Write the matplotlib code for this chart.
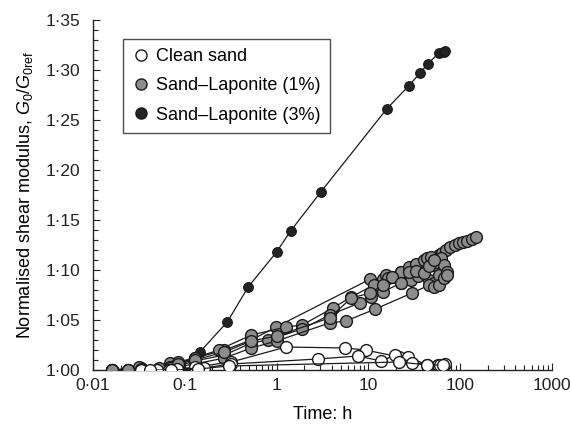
import matplotlib
matplotlib.use("Agg")
import matplotlib.pyplot as plt
from matplotlib.ticker import FixedLocator, FixedFormatter, LogLocator, NullFormatter, MultipleLocator
from matplotlib.lines import Line2D

plt.rcParams['font.family'] = ['Liberation Sans', 'DejaVu Sans']
plt.rcParams['mathtext.fontset'] = 'custom'
plt.rcParams['mathtext.rm'] = 'Liberation Sans'
plt.rcParams['mathtext.it'] = 'Liberation Sans:italic'

# ---------------- data ----------------
# Sand-Laponite (3%)
lap3_t = [0.065, 0.082, 0.146, 0.29, 0.49, 1.0, 1.42, 3.03, 15.8, 27.4, 36.5, 44.1, 58.6, 65.8, 68.2]
lap3_g = [1.000, 1.002, 1.018, 1.048, 1.083, 1.118, 1.139, 1.178, 1.261, 1.284, 1.297, 1.306, 1.317, 1.318, 1.319]

# Sand-Laponite (1%) - individual tests
lap1a_t = [0.016, 0.024, 0.033, 0.067, 0.13, 0.27, 0.53, 0.99, 10.5, 14.3, 15.6, 18.1, 22.7, 27.9, 33, 39.6,
           48, 59, 64, 70, 77, 88, 96, 108, 120, 134, 148]
lap1a_g = [1.000, 1.000, 1.002, 1.004, 1.012, 1.020, 1.030, 1.043, 1.091, 1.091, 1.095, 1.093, 1.098, 1.098,
           1.099, 1.100, 1.110, 1.115, 1.117, 1.120, 1.123, 1.125, 1.127, 1.128, 1.129, 1.131, 1.133]
lap1b_t = [0.016, 0.032, 0.052, 0.069, 0.084, 0.128, 0.234, 0.53, 1.27, 1.9, 4.1, 6.5, 11.5, 16.5, 22.7,
           27.9, 33, 40, 44, 48, 52, 56, 62]
lap1b_g = [1.000, 1.003, 1.001, 1.007, 1.008, 1.012, 1.020, 1.035, 1.043, 1.045, 1.062, 1.073, 1.085, 1.092,
           1.098, 1.103, 1.106, 1.110, 1.112, 1.113, 1.105, 1.108, 1.112]
lap1c_t = [0.016, 0.024, 0.052, 0.069, 0.084, 0.128, 0.27, 0.53, 0.81, 1.9, 3.77, 8.0, 10.7, 14.3, 22.7,
           29, 35, 40, 46, 52, 59, 66, 72]
lap1c_g = [1.000, 1.000, 1.001, 1.003, 1.004, 1.009, 1.015, 1.027, 1.030, 1.041, 1.055, 1.067, 1.073, 1.078,
           1.087, 1.090, 1.094, 1.097, 1.090, 1.087, 1.095, 1.105, 1.098]
lap1d_t = [0.016, 0.033, 0.069, 0.128, 0.27, 0.53, 1.0, 3.77, 5.7, 11.9, 29.9, 46, 52, 59, 66, 72]
lap1d_g = [1.000, 1.001, 1.002, 1.006, 1.012, 1.022, 1.029, 1.047, 1.049, 1.061, 1.077, 1.085, 1.083, 1.085,
           1.092, 1.095]
lap1e_t = [0.016, 0.024, 0.052, 0.084, 0.128, 0.27, 0.53, 1.0, 3.77, 6.5, 10.5, 14.3, 18.1, 22.7, 27.9, 33,
           40, 46, 52]
lap1e_g = [1.000, 1.000, 1.002, 1.006, 1.010, 1.018, 1.029, 1.034, 1.052, 1.072, 1.077, 1.085, 1.093, 1.087,
           1.098, 1.099, 1.097, 1.104, 1.110]

# Clean sand - individual tests
clean_a_t = [0.033, 0.067, 0.13, 0.32, 1.27, 5.6, 9.3, 21.7, 26.9, 44, 57]
clean_a_g = [1.000, 1.000, 1.003, 1.008, 1.023, 1.022, 1.020, 1.013, 1.013, 1.005, 1.005]
clean_b_t = [0.05, 0.083, 0.16, 0.32, 2.8, 7.7, 13.7, 19.7, 29.6, 61, 69]
clean_b_g = [1.000, 1.001, 1.002, 1.006, 1.011, 1.014, 1.009, 1.015, 1.007, 1.005, 1.006]
clean_c_t = [0.042, 0.07, 0.14, 0.3, 21.7, 44, 65]
clean_c_g = [1.000, 1.000, 1.001, 1.004, 1.008, 1.005, 1.005]

x_ticks = [0.01, 0.1, 1, 10, 100, 1000]
x_labels = ["0·01", "0·1", "1", "10", "100", "1000"]
y_ticks = [1.00, 1.05, 1.10, 1.15, 1.20, 1.25, 1.30, 1.35]
y_labels = ["1·00", "1·05", "1·10", "1·15", "1·20", "1·25", "1·30", "1·35"]

legend_labels = ["Clean sand", "Sand–Laponite (1%)", "Sand–Laponite (3%)"]

# ---------------- style ----------------
c_clean = "white"
c_lap1 = "#8c8c8c"
c_lap3 = "#232323"
edge = "#1a1a1a"
lw = 0.9

fig = plt.figure(figsize=(5.71, 4.30), dpi=100)
ax = fig.add_axes([93 / 571, 60 / 430, 459 / 571, 350 / 430])

ax.plot(lap3_t, lap3_g, '-o', color=edge, lw=lw, ms=7, mfc=c_lap3, mec=edge, mew=0.8, zorder=3)

for tt, gg in [(lap1a_t, lap1a_g), (lap1b_t, lap1b_g), (lap1c_t, lap1c_g),
               (lap1d_t, lap1d_g), (lap1e_t, lap1e_g)]:
    ax.plot(tt, gg, '-o', color=edge, lw=lw, ms=8.5, mfc=c_lap1, mec=edge, mew=1.0, zorder=4)

for tt, gg in [(clean_a_t, clean_a_g), (clean_b_t, clean_b_g), (clean_c_t, clean_c_g)]:
    ax.plot(tt, gg, '-o', color=edge, lw=lw, ms=8.5, mfc=c_clean, mec=edge, mew=1.0, zorder=5)

ax.set_xscale('log')
ax.set_xlim(0.01, 1000)
ax.set_ylim(1.0, 1.35)

ax.xaxis.set_major_locator(FixedLocator(x_ticks))
ax.xaxis.set_major_formatter(FixedFormatter(x_labels))
ax.xaxis.set_minor_locator(LogLocator(base=10, subs=range(2, 10), numticks=20))
ax.xaxis.set_minor_formatter(NullFormatter())
ax.yaxis.set_major_locator(FixedLocator(y_ticks))
ax.yaxis.set_major_formatter(FixedFormatter(y_labels))
ax.yaxis.set_minor_locator(MultipleLocator(0.01))

ax.tick_params(which='both', direction='in', colors='#222222', labelsize=12.5, width=0.8)
ax.tick_params(which='major', length=5)
ax.tick_params(which='minor', length=3.5)
ax.tick_params(axis='y', which='major', pad=9)
ax.tick_params(axis='x', which='major', pad=6)

for s in ['top', 'right']:
    ax.spines[s].set_visible(False)
for s in ['left', 'bottom']:
    ax.spines[s].set_linewidth(1.0)
    ax.spines[s].set_color('#222222')

ax.set_xlabel("Time: h", fontsize=13, labelpad=9)
ax.set_ylabel(r"Normalised shear modulus, $G_0/G_{0\mathrm{ref}}$", fontsize=13, labelpad=8)

handles = [
    Line2D([], [], ls='none', marker='o', ms=8, mfc=c_clean, mec=edge, mew=1.0),
    Line2D([], [], ls='none', marker='o', ms=8, mfc=c_lap1, mec=edge, mew=1.0),
    Line2D([], [], ls='none', marker='o', ms=8, mfc=c_lap3, mec=edge, mew=1.0),
]
leg = ax.legend(handles, legend_labels, loc='upper left', bbox_to_anchor=(30 / 459, (370 - 39) / 350),
                borderaxespad=0, fontsize=13, frameon=True, fancybox=False, edgecolor='#222222',
                handlelength=1.0, handletextpad=0.35, borderpad=0.5, labelspacing=0.68)
leg.get_frame().set_linewidth(1.0)

fig.savefig("out.png", dpi=100)
